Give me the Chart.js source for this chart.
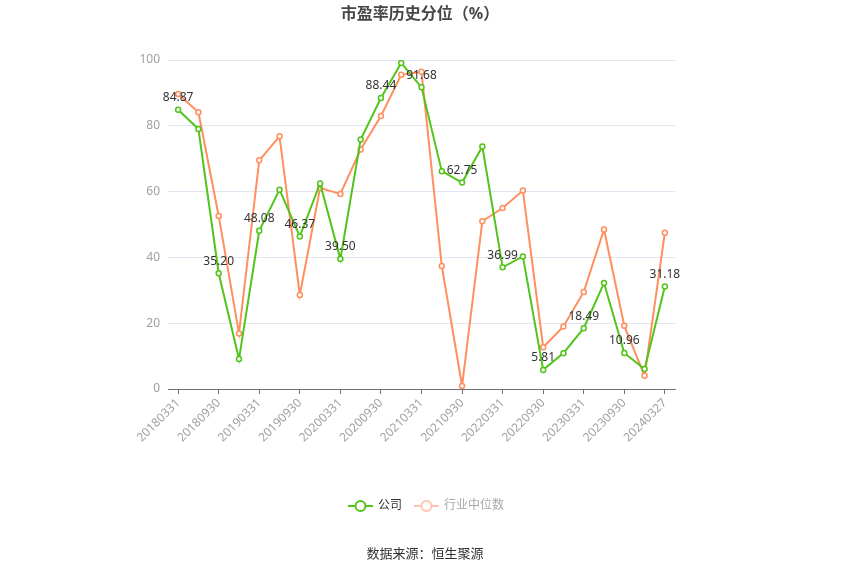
<!DOCTYPE html>
<html>
<head>
<meta charset="utf-8">
<script src="https://cdn.jsdelivr.net/npm/chart.js@4/dist/chart.umd.min.js"></script>
<style>
  html, body { margin: 0; padding: 0; background: #fff; }
  #wrap { width: 850px; height: 575px; position: relative; }
</style>
</head>
<body>
<div id="wrap"><canvas id="chart"></canvas></div>
<script>
// report dates (quarterly)
const dates = [
  '20180331', '20180630', '20180930', '20181231',
  '20190331', '20190630', '20190930', '20191231',
  '20200331', '20200630', '20200930', '20201231',
  '20210331', '20210630', '20210930', '20211231',
  '20220331', '20220630', '20220930', '20221231',
  '20230331', '20230630', '20230930', '20231231',
  '20240327'
];

// 公司
const companyValues = [
  84.87, 79.0, 35.20, 9.1,
  48.08, 60.6, 46.37, 62.5,
  39.50, 75.8, 88.44, 99.1,
  91.68, 66.2, 62.75, 73.7,
  36.99, 40.3, 5.81, 10.9,
  18.49, 32.2, 10.96, 6.1,
  31.18
];

// 行业中位数
const industryValues = [
  89.7, 84.1, 52.6, 16.9,
  69.5, 76.8, 28.6, 61.1,
  59.3, 72.8, 83.0, 95.5,
  96.4, 37.4, 0.9, 51.0,
  55.0, 60.3, 12.7, 19.0,
  29.5, 48.5, 19.2, 4.0,
  47.5
];

const yTicks = [0, 20, 40, 60, 80, 100];

const colors = {
  green: '#52c41a',
  orange: '#ff8f5e',
  orangeFaded: '#ffc4ab',
  grid: '#e0e6f1',
  axis: '#6e7079',
  tickText: '#a0a0a0',
  text: '#333333'
};

const fontFamily = "'Noto Sans', 'Noto Sans CJK SC', sans-serif";
Chart.defaults.font.family = fontFamily;

// value labels on every other company point
const valueLabels = {
  id: 'valueLabels',
  afterDatasetsDraw(chart) {
    const { ctx } = chart;
    const meta = chart.getDatasetMeta(0);
    ctx.save();
    ctx.font = '12px ' + fontFamily;
    ctx.fillStyle = colors.text;
    ctx.textAlign = 'center';
    ctx.textBaseline = 'bottom';
    meta.data.forEach((pt, i) => {
      if (i % 2 !== 0) return;
      ctx.fillText(companyValues[i].toFixed(2), pt.x, pt.y - 6);
    });
    ctx.restore();
  }
};

// title, legend and source line
const decorations = {
  id: 'decorations',
  afterDraw(chart) {
    const { ctx } = chart;
    ctx.save();

    ctx.font = 'bold 16px ' + fontFamily;
    ctx.fillStyle = '#464646';
    ctx.textAlign = 'center';
    ctx.textBaseline = 'middle';
    ctx.fillText('市盈率历史分位（%）', 420, 14);

    // legend
    const drawItem = (x, color, label, textColor) => {
      ctx.strokeStyle = color;
      ctx.lineWidth = 2;
      ctx.beginPath();
      ctx.moveTo(x, 506);
      ctx.lineTo(x + 25, 506);
      ctx.stroke();
      ctx.beginPath();
      ctx.arc(x + 12.5, 506, 5, 0, Math.PI * 2);
      ctx.fillStyle = '#fff';
      ctx.fill();
      ctx.stroke();
      ctx.font = '12px ' + fontFamily;
      ctx.fillStyle = textColor;
      ctx.textAlign = 'left';
      ctx.fillText(label, x + 30, 506);
    };
    drawItem(348, colors.green, '公司', colors.text);
    drawItem(414, colors.orangeFaded, '行业中位数', '#a8a8a8');

    ctx.font = '13px ' + fontFamily;
    ctx.fillStyle = colors.text;
    ctx.textAlign = 'center';
    ctx.fillText('数据来源：恒生聚源', 425, 554);
    ctx.restore();
  }
};

const makeLine = (label, data, color) => ({
  label,
  data,
  borderColor: color,
  backgroundColor: '#fff',
  borderWidth: 2,
  pointRadius: 2.5,
  pointBorderWidth: 1.5,
  pointBorderColor: color,
  pointBackgroundColor: '#fff',
  tension: 0,
  fill: false
});

new Chart(document.getElementById('chart'), {
  type: 'line',
  data: {
    labels: dates,
    datasets: [
      makeLine('公司', companyValues, colors.green),
      makeLine('行业中位数', industryValues, colors.orange)
    ]
  },
  options: {
    responsive: true,
    maintainAspectRatio: false,
    animation: false,
    layout: { padding: { top: 60, right: 175, bottom: 126, left: 0 } },
    plugins: {
      legend: { display: false },
      title: { display: false },
      tooltip: { enabled: false }
    },
    scales: {
      x: {
        offset: true,
        afterFit(scale) { scale.height = 60; },
        border: { color: colors.axis },
        grid: {
          offset: false,
          drawOnChartArea: false,
          drawTicks: true,
          tickLength: 5,
          color: colors.axis
        },
        ticks: {
          autoSkip: false,
          minRotation: 45,
          maxRotation: 45,
          color: colors.tickText,
          font: { size: 12 },
          padding: 2,
          callback(value, index) {
            return index % 2 === 0 ? dates[index] : null;
          }
        }
      },
      y: {
        min: yTicks[0],
        max: yTicks[yTicks.length - 1],
        afterFit(scale) { scale.width = 168; },
        afterBuildTicks(scale) { scale.ticks = yTicks.map(v => ({ value: v })); },
        border: { display: false },
        grid: { color: colors.grid, drawTicks: false },
        ticks: {
          color: colors.tickText,
          font: { size: 12 },
          padding: 8
        }
      }
    }
  },
  plugins: [valueLabels, decorations]
});
</script>
</body>
</html>
